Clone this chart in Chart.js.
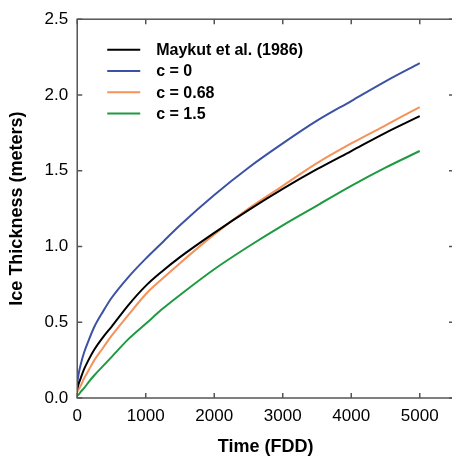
<!DOCTYPE html>
<html>
<script src="https://cdn.jsdelivr.net/npm/chart.js@4.4.0/dist/chart.umd.min.js"></script>
<style>
  html, body { margin: 0; padding: 0; overflow: hidden; background: #fff; }
  #wrap { width: 460px; height: 458px; }
</style>
<body>
<div id="wrap"><canvas id="myChart" width="460" height="458"></canvas></div>
</body>

<script>
// freezing degree days on x, thickness in meters on y
var fdd = [0, 25, 50, 100, 175, 250, 375, 500, 750, 1000, 1250, 1500, 2000, 2500, 3000, 3500, 4000, 4500, 5000];

var maykut = [0.06, 0.10, 0.13, 0.19, 0.26, 0.32, 0.40, 0.47, 0.615, 0.74, 0.84, 0.93, 1.09, 1.24, 1.38, 1.51, 1.63, 1.75, 1.86];
var c0     = [0.10, 0.17, 0.22, 0.30, 0.39, 0.47, 0.57, 0.66, 0.80, 0.92, 1.03, 1.14, 1.34, 1.52, 1.68, 1.83, 1.96, 2.09, 2.21];
var c068   = [0.04, 0.06, 0.08, 0.13, 0.19, 0.25, 0.33, 0.41, 0.55, 0.685, 0.79, 0.89, 1.08, 1.25, 1.40, 1.55, 1.68, 1.80, 1.92];
var c15    = [0.015, 0.025, 0.04, 0.065, 0.11, 0.15, 0.21, 0.27, 0.39, 0.49, 0.59, 0.68, 0.85, 1.00, 1.14, 1.27, 1.40, 1.52, 1.63];

var xTicks = [0, 1000, 2000, 3000, 4000, 5000];
var yTicks = [0, 0.5, 1.0, 1.5, 2.0, 2.5];

function pts(ys) {
  return fdd.map(function (x, i) { return { x: x, y: ys[i] }; });
}

// box round the plot with inward tick marks
var boxTicks = {
  id: 'boxTicks',
  afterDraw: function (chart) {
    var ctx = chart.ctx, a = chart.chartArea;
    var xs = chart.scales.x, ys = chart.scales.y;
    ctx.save();
    ctx.strokeStyle = '#555';
    ctx.lineWidth = 1.5;
    ctx.strokeRect(a.left, a.top, a.right - a.left, a.bottom - a.top);
    ctx.beginPath();
    xs.ticks.forEach(function (t) {
      var px = xs.getPixelForValue(t.value);
      ctx.moveTo(px, a.bottom); ctx.lineTo(px, a.bottom - 5);
      ctx.moveTo(px, a.top); ctx.lineTo(px, a.top + 5);
    });
    ys.ticks.forEach(function (t) {
      var py = ys.getPixelForValue(t.value);
      ctx.moveTo(a.left, py); ctx.lineTo(a.left + 5, py);
      ctx.moveTo(a.right, py); ctx.lineTo(a.right - 5, py);
    });
    ctx.stroke();
    ctx.restore();
  }
};

// legend drawn inside the plot, top left
var innerLegend = {
  id: 'innerLegend',
  afterDraw: function (chart) {
    var ctx = chart.ctx, a = chart.chartArea;
    ctx.save();
    ctx.font = 'bold 16px "Liberation Sans", Arial, sans-serif';
    ctx.textBaseline = 'middle';
    chart.data.datasets.forEach(function (ds, i) {
      var y = a.top + 30.5 + i * 21.3;
      ctx.strokeStyle = ds.borderColor;
      ctx.lineWidth = 2;
      ctx.beginPath();
      ctx.moveTo(a.left + 30, y); ctx.lineTo(a.left + 63, y);
      ctx.stroke();
      ctx.fillStyle = '#000';
      ctx.fillText(ds.label, a.left + 79, y + 1);
    });
    ctx.restore();
  }
};

Chart.defaults.font.family = '"Liberation Sans", Arial, sans-serif';
Chart.defaults.color = '#000';

new Chart("myChart", {
  type: "line",
  data: {
    datasets: [
      { label: "Maykut et al. (1986)", data: pts(maykut), borderColor: "#000000" },
      { label: "c = 0", data: pts(c0), borderColor: "#3d52a5" },
      { label: "c = 0.68", data: pts(c068), borderColor: "#f5925a" },
      { label: "c = 1.5", data: pts(c15), borderColor: "#1f9a41" }
    ]
  },
  plugins: [boxTicks, innerLegend],
  options: {
    responsive: false,
    animation: false,
    layout: { padding: { top: 14, right: 6, left: 6, bottom: 0 } },
    elements: {
      line: { borderWidth: 2, cubicInterpolationMode: 'monotone', fill: false },
      point: { radius: 0 }
    },
    plugins: { legend: { display: false }, tooltip: { enabled: false } },
    scales: {
      x: {
        type: 'linear',
        min: 0, max: 5500,
        afterBuildTicks: function (s) { s.ticks = xTicks.map(function (v) { return { value: v }; }); },
        grid: { display: false, drawTicks: false },
        border: { display: false },
        ticks: { font: { size: 17 }, padding: 8, maxRotation: 0, callback: function (v) { return String(v); } },
        title: { display: true, text: 'Time (FDD)', font: { size: 18, weight: 'bold' }, padding: { top: 2, bottom: 0 } }
      },
      y: {
        min: 0, max: 2.5,
        afterBuildTicks: function (s) { s.ticks = yTicks.map(function (v) { return { value: v }; }); },
        grid: { display: false, drawTicks: false },
        border: { display: false },
        ticks: { font: { size: 17 }, padding: 9, callback: function (v) { return v.toFixed(1); } },
        title: { display: true, text: 'Ice Thickness (meters)', font: { size: 18, weight: 'bold' }, padding: { top: 0, bottom: 8 } }
      }
    }
  }
});
</script>
</html>
